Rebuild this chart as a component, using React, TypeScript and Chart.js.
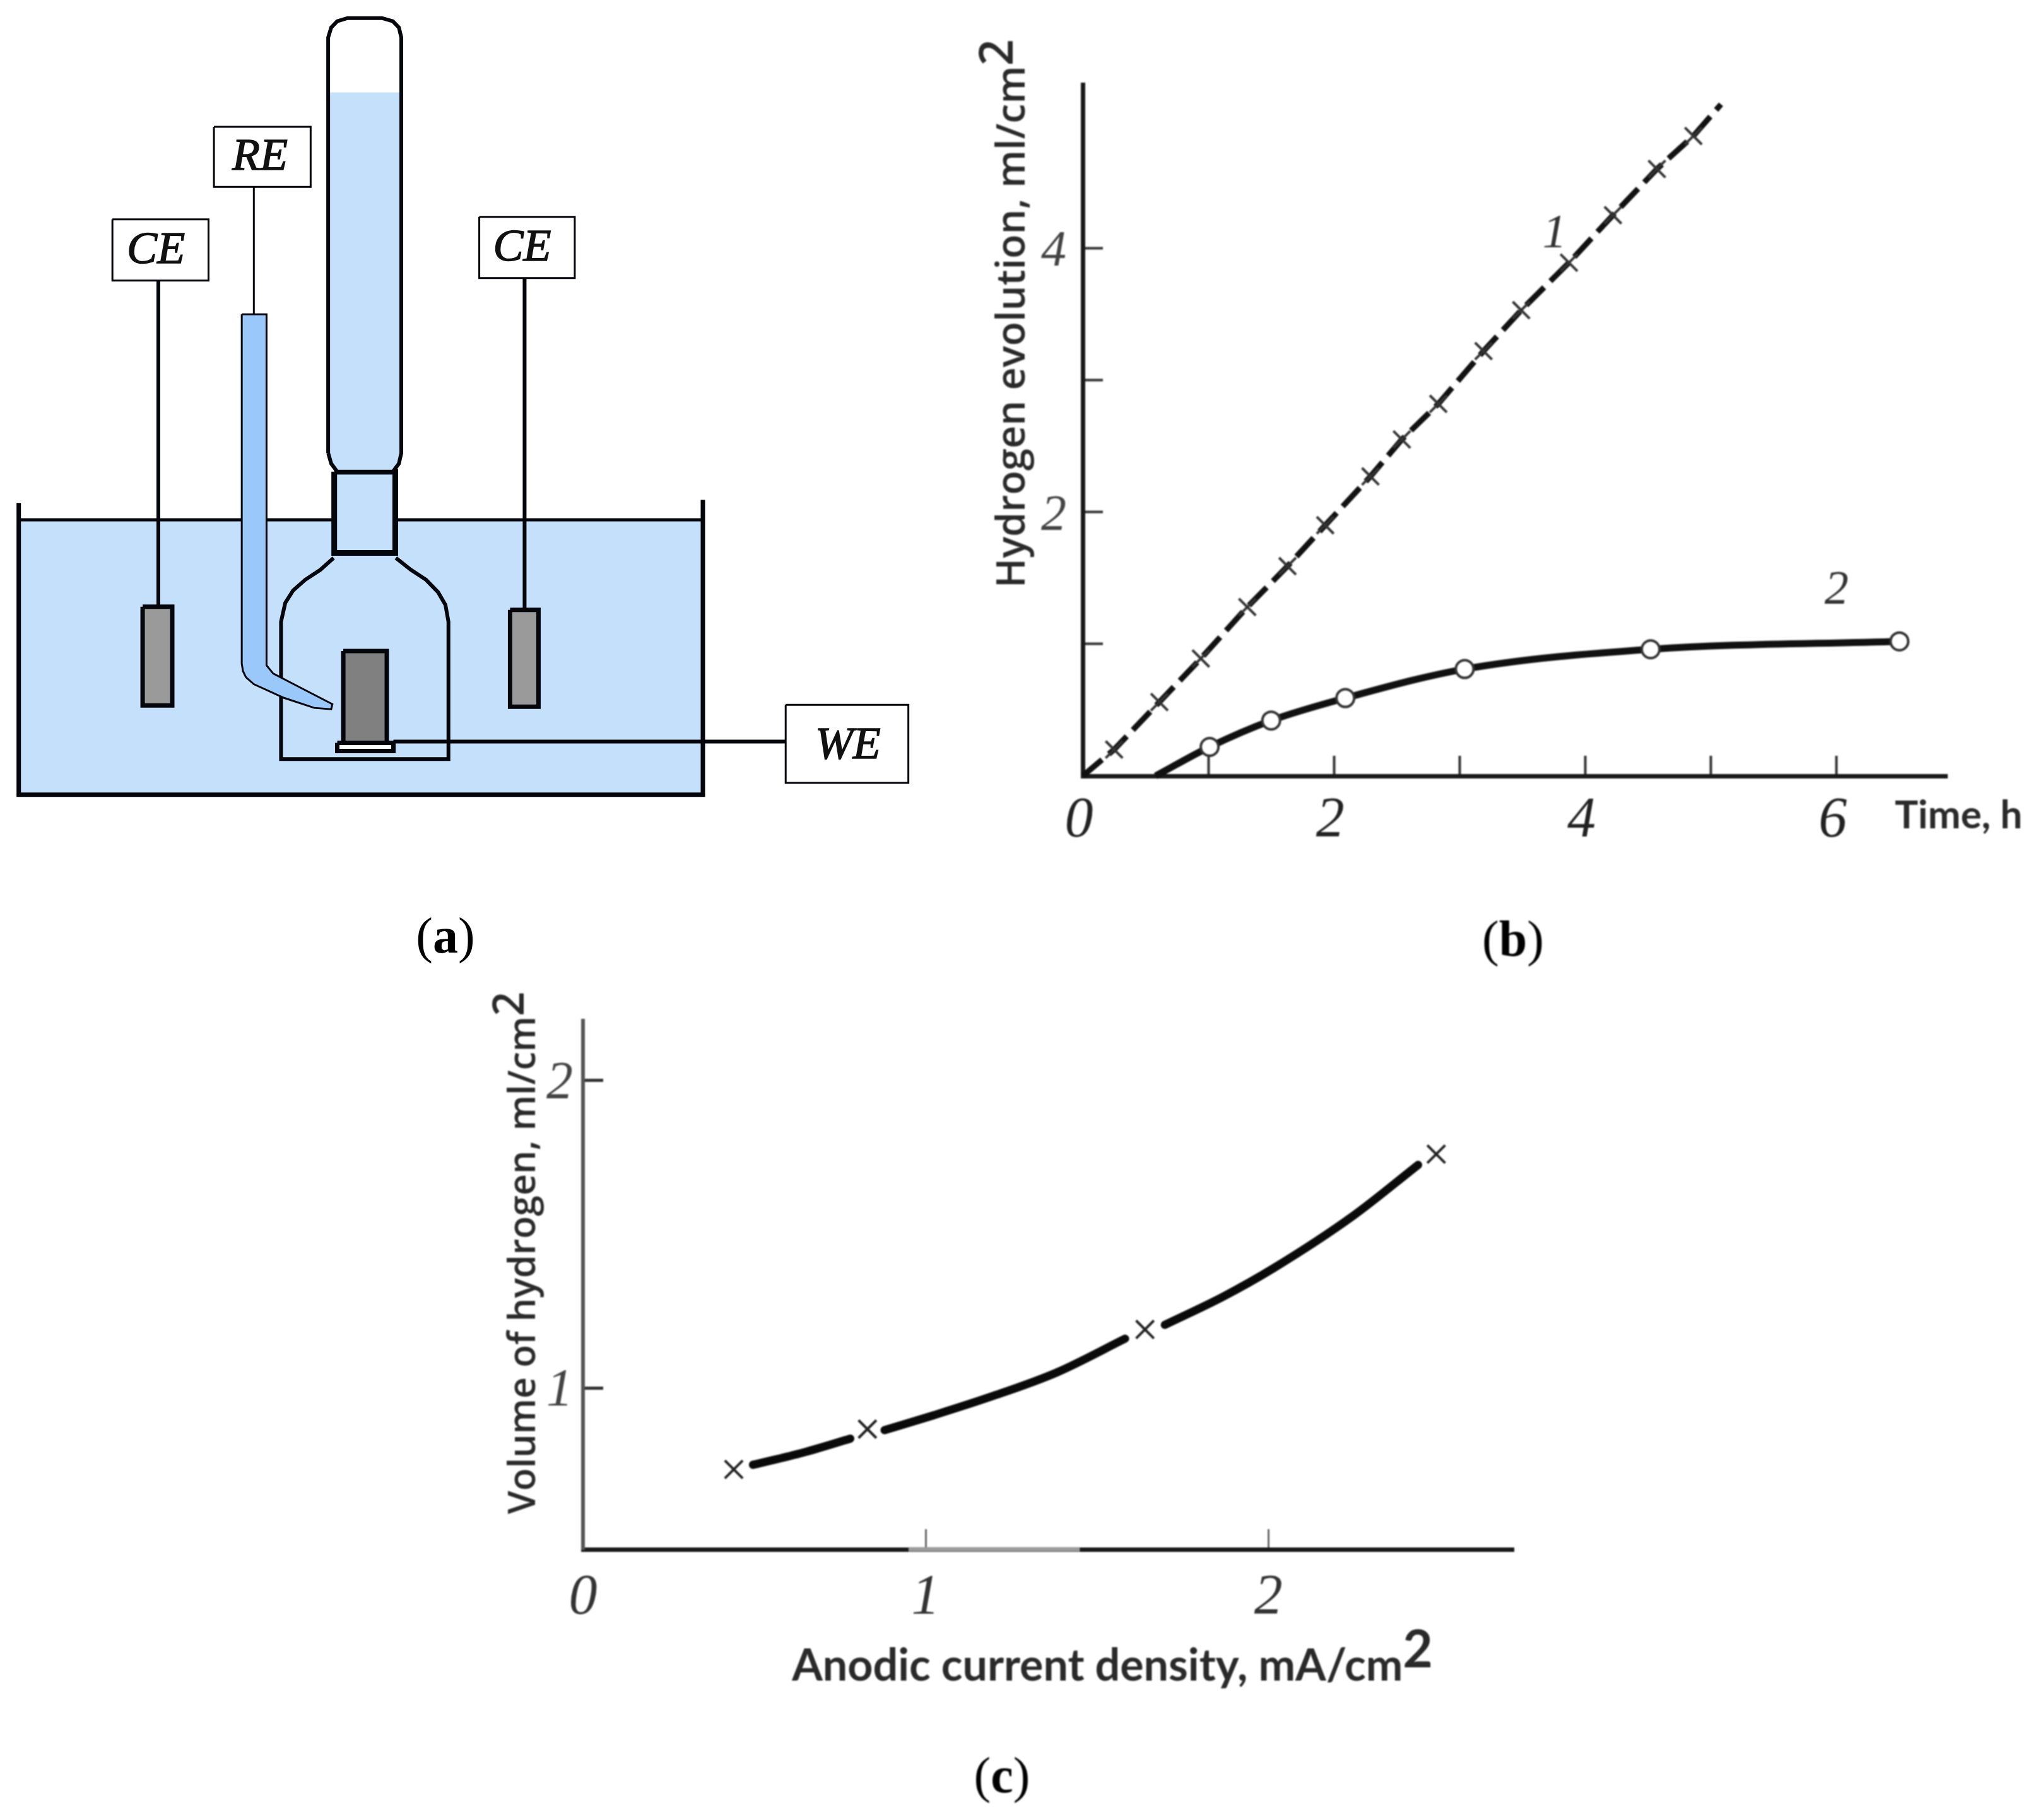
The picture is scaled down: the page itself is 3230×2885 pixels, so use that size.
import React, { useEffect, useRef } from "react";
import { Chart, registerables } from "chart.js";

Chart.register(...registerables);

type P = [number, number];

// ---------- Panel (b) values ----------
const b_series1_x = [0, 0.25, 0.61, 0.94, 1.31, 1.63, 1.93, 2.29, 2.54, 2.83, 3.19, 3.49, 3.87, 4.22, 4.57, 4.86, 5.08];
const b_series1_y = [0, 0.2, 0.56, 0.89, 1.28, 1.59, 1.9, 2.27, 2.55, 2.82, 3.22, 3.53, 3.89, 4.25, 4.6, 4.85, 5.09];
const b_series2_x = [0.58, 1.01, 1.5, 2.09, 3.04, 4.52, 6.5];
const b_series2_y = [0, 0.22, 0.42, 0.59, 0.81, 0.96, 1.02];
const b_x_labels = ["0", "2", "4", "6"];
const b_y_labels = ["2", "4"];

// ---------- Panel (c) values ----------
const c_marker_x = [0.44, 0.83, 1.64, 2.49];
const c_marker_y = [0.735, 0.866, 1.19, 1.76];
const c_seg1_x = [0.496, 0.643, 0.78];
const c_seg1_y = [0.75, 0.79, 0.835];
const c_seg2_x = [0.88, 1.023, 1.192, 1.382, 1.582];
const c_seg2_y = [0.8625, 0.911, 0.972, 1.05, 1.16];
const c_seg3_x = [1.698, 1.867, 2.015, 2.247, 2.437];
const c_seg3_y = [1.205, 1.296, 1.389, 1.559, 1.725];
const c_x_labels = ["0", "1", "2"];
const c_y_labels = ["1", "2"];
const c_axis_fade_x = [0.95, 1.45];

// ---------- Panel (a) apparatus outlines ----------
const a_tank_fill: P[] = [[31, 832], [1163, 832], [1163, 1272], [31, 1272], [31, 832]];
const a_tank_outline: P[] = [[31, 805], [31, 1272], [1163, 1272], [1163, 800]];
const a_water_line: P[] = [[31, 832], [1163, 832]];
const a_column_water: P[] = [[546, 148], [661, 148], [661, 725], [658, 742], [650, 755], [558, 755], [548, 742], [546, 725], [546, 148]];
const a_column: P[] = [[543, 725], [543, 60], [548, 44], [558, 34], [575, 29], [632, 29], [650, 34], [660, 44], [664, 60], [664, 725], [660, 742], [650, 755], [558, 755], [548, 742], [543, 725]];
const a_neck: P[] = [[553, 755], [654, 755], [654, 885], [553, 885], [553, 755]];
const a_bell: P[] = [[552, 893], [530, 912], [505, 928], [485, 945], [472, 965], [465, 995], [465, 1215], [742, 1215], [742, 995], [737, 968], [725, 948], [705, 928], [680, 912], [655, 893]];
const a_re_tube: P[] = [[400, 503], [441, 503], [441, 1065], [452, 1078], [490, 1097], [550, 1127], [548, 1135], [520, 1133], [470, 1117], [420, 1095], [407, 1084], [402, 1074], [400, 1062], [400, 503]];
const a_ce_left_wire: P[] = [[262, 450], [262, 971]];
const a_ce_left: P[] = [[236, 971], [285, 971], [285, 1129], [236, 1129], [236, 971]];
const a_ce_right_wire: P[] = [[868, 445], [868, 976]];
const a_ce_right: P[] = [[844, 976], [891, 976], [891, 1131], [844, 1131], [844, 976]];
const a_re_wire: P[] = [[420, 299], [420, 503]];
const a_we: P[] = [[568, 1042], [640, 1042], [640, 1189], [568, 1189], [568, 1042]];
const a_we_base: P[] = [[558, 1189], [651, 1189], [651, 1202], [558, 1202], [558, 1189]];
const a_we_wire: P[] = [[651, 1187], [1300, 1187]];
const a_box_re: P[] = [[354, 203], [514, 203], [514, 299], [354, 299], [354, 203]];
const a_box_ce_left: P[] = [[186, 351], [345, 351], [345, 449], [186, 449], [186, 351]];
const a_box_ce_right: P[] = [[793, 347], [951, 347], [951, 445], [793, 445], [793, 347]];
const a_box_we: P[] = [[1300, 1128], [1503, 1128], [1503, 1253], [1300, 1253], [1300, 1128]];

const a_labels = ["RE", "CE", "CE", "WE"];
const panel_labels = ["a", "b", "c"];
const b_titles = ["Hydrogen evolution, ml/cm", "Time, h"];
const c_titles = ["Volume of hydrogen, ml/cm", "Anodic current density, mA/cm"];
const b_curve_names = ["1", "2"];
const superscript = "2";

// ---------- Helpers ----------
const WATER = "#c5e0fb";
const TUBE = "#9bc8fb";
const INK = "#05060c";
const SERIF = '"Liberation Serif"';
const SANS = '"Open Sans"';
const LATO = "Lato";

const pts = (p: P[]) => p.map(([x, y]) => ({ x, y }));
const zip = (xs: number[], ys: number[]) => xs.map((x, i) => ({ x, y: ys[i] }));

type Run = { t: string; font: string; dy?: number };
type Item = { runs: Run[]; x: number; y: number; rot?: number; color?: string; data?: boolean; stroke?: number };

const textPlugin = (items: Item[]) => ({
  id: "texts",
  afterDatasetsDraw(chart: any) {
    const ctx = chart.ctx;
    items.forEach((it) => {
      const x = it.data ? chart.scales.x.getPixelForValue(it.x) : it.x;
      const y = it.data ? chart.scales.y.getPixelForValue(it.y) : it.y;
      ctx.save();
      ctx.translate(x, y);
      if (it.rot) ctx.rotate(it.rot);
      ctx.fillStyle = it.color || "#111";
      ctx.strokeStyle = it.color || "#111";
      ctx.textBaseline = "middle";
      ctx.textAlign = "left";
      let total = 0;
      it.runs.forEach((r) => {
        ctx.font = r.font;
        total += ctx.measureText(r.t).width;
      });
      let cx = -total / 2;
      it.runs.forEach((r) => {
        ctx.font = r.font;
        ctx.fillText(r.t, cx, r.dy || 0);
        if (it.stroke) {
          ctx.lineWidth = it.stroke;
          ctx.strokeText(r.t, cx, r.dy || 0);
        }
        cx += ctx.measureText(r.t).width;
      });
      ctx.restore();
    });
  },
});

const panelLabel = (name: string, x: number, y: number): Item => ({
  x,
  y,
  color: "#000",
  runs: [
    { t: "(", font: `80px ${SERIF}` },
    { t: name, font: `bold 80px ${SERIF}` },
    { t: ")", font: `80px ${SERIF}` },
  ],
});

const line = (p: P[], o: any = {}) => ({
  data: pts(p),
  showLine: true,
  pointRadius: 0,
  borderColor: INK,
  borderWidth: 6,
  borderJoinStyle: "miter",
  clip: false,
  ...o,
});
const shape = (p: P[], color: string, o: any = {}) =>
  line(p, { fill: "shape", backgroundColor: color, ...o });

const baseOptions = {
  animation: false,
  responsive: false,
  devicePixelRatio: 1,
  events: [],
  plugins: { legend: { display: false }, tooltip: { enabled: false } },
};

// ---------- Chart configs ----------
function configA() {
  const layers = [
    shape(a_tank_fill, WATER, { borderWidth: 0 }),
    line(a_tank_outline, { borderWidth: 7 }),
    line(a_water_line, { borderWidth: 5 }),
    line(a_ce_left_wire),
    shape(a_ce_left, "#9a9a9a", { borderWidth: 7 }),
    line(a_ce_right_wire),
    shape(a_ce_right, "#9a9a9a", { borderWidth: 7 }),
    line(a_re_wire, { borderWidth: 3 }),
    shape(a_neck, WATER, { borderWidth: 9 }),
    shape(a_bell, WATER, { borderWidth: 6 }),
    shape(a_re_tube, TUBE, { borderWidth: 3 }),
    shape(a_column_water, WATER, { borderWidth: 0 }),
    line(a_column, { borderWidth: 6 }),
    shape(a_we, "#808080", { borderWidth: 7 }),
    shape(a_we_base, "#ffffff", { borderWidth: 7 }),
    line(a_we_wire),
    shape(a_box_re, "#ffffff", { borderWidth: 3 }),
    shape(a_box_ce_left, "#ffffff", { borderWidth: 3 }),
    shape(a_box_ce_right, "#ffffff", { borderWidth: 3 }),
    shape(a_box_we, "#ffffff", { borderWidth: 3 }),
  ];
  const lab = `italic 72px ${SERIF}`;
  const items: Item[] = [
    { runs: [{ t: a_labels[0], font: lab }], x: 430, y: 252, data: true, stroke: 1.5 },
    { runs: [{ t: a_labels[1], font: lab }], x: 258, y: 402, data: true, stroke: 1.5 },
    { runs: [{ t: a_labels[2], font: lab }], x: 864, y: 398, data: true, stroke: 1.5 },
    { runs: [{ t: a_labels[3], font: lab }], x: 1403, y: 1195, data: true, stroke: 1.5 },
    panelLabel(panel_labels[0], 706, 1489),
  ];
  return {
    type: "scatter",
    data: { datasets: layers.reverse() },
    options: {
      ...baseOptions,
      scales: {
        x: { type: "linear", min: 0, max: 1566, display: false },
        y: { type: "linear", min: 0, max: 1565, reverse: true, display: false },
      },
    },
    plugins: [textPlugin(items)],
  };
}

function axisCommon(o: any) {
  return {
    type: "linear",
    border: { display: true, color: "#1a1a1a", width: 7 },
    ...o,
  };
}

const digitFont = { family: SERIF, size: 90, style: "italic" as const };

function configB() {
  const s1 = zip(b_series1_x, b_series1_y);
  const s2 = zip(b_series2_x, b_series2_y);
  const items: Item[] = [
    {
      x: 106,
      y: 497,
      rot: -Math.PI / 2,
      color: "#2a2a2a",
      runs: [
        { t: b_titles[0], font: `600 63px ${SANS}` },
        { t: superscript, font: `600 74px ${SANS}`, dy: -22 },
      ],
    },
    { x: 1604, y: 1293, color: "#2a2a2a", runs: [{ t: b_titles[1], font: `700 62px ${LATO}` }] },
    { x: 3.755, y: 4.1, data: true, color: "#333", runs: [{ t: b_curve_names[0], font: `italic 76px ${SERIF}` }] },
    { x: 6.0, y: 1.4, data: true, color: "#333", runs: [{ t: b_curve_names[1], font: `italic 76px ${SERIF}` }] },
    panelLabel(panel_labels[1], 898, 1494),
  ];
  return {
    type: "scatter",
    data: {
      datasets: [
        {
          data: s2,
          showLine: true,
          borderColor: "#111",
          borderWidth: 11,
          cubicInterpolationMode: "monotone",
          pointRadius: (c: any) => (c.dataIndex === 0 ? 0 : 14),
          pointStyle: "circle",
          pointBackgroundColor: "#fff",
          pointBorderColor: "#333",
          pointBorderWidth: 4,
          clip: false,
        },
        {
          data: s1,
          showLine: true,
          borderColor: "#111",
          borderWidth: 9,
          borderDash: [40, 14],
          pointRadius: (c: any) => (c.dataIndex === 0 || c.dataIndex === s1.length - 1 ? 0 : 19),
          pointStyle: "crossRot",
          pointBorderColor: "#333",
          pointBorderWidth: 4,
          clip: false,
        },
      ],
    },
    options: {
      ...baseOptions,
      layout: { padding: { top: 134, right: 144, left: 0, bottom: 0 } },
      scales: {
        x: axisCommon({
          min: 0,
          max: 6.88,
          afterFit: (s: any) => { s.height = 320; },
          grid: { drawOnChartArea: false, tickLength: -32, tickWidth: 4, tickColor: "#333" },
          ticks: {
            stepSize: 1,
            includeBounds: false,
            autoSkip: false,
            maxRotation: 0,
            padding: 50,
            labelOffset: -6,
            color: "#222",
            font: digitFont,
            callback: (v: number) => (b_x_labels.includes(String(v)) ? String(v) : ""),
          },
        }),
        y: axisCommon({
          min: 0,
          max: 5.24,
          afterFit: (s: any) => { s.width = 216; },
          grid: {
            drawOnChartArea: false,
            tickLength: -32,
            tickWidth: 4,
            tickColor: (c: any) => (c.tick && c.tick.value === 5 ? "rgba(0,0,0,0)" : "#333"),
          },
          ticks: {
            stepSize: 1,
            includeBounds: false,
            autoSkip: false,
            padding: 58,
            labelOffset: 7,
            color: "#444",
            font: { ...digitFont, size: 80 },
            callback: (v: number) => (b_y_labels.includes(String(v)) ? String(v) : ""),
          },
        }),
      },
    },
    plugins: [textPlugin(items)],
  };
}

function configC() {
  const seg = (xs: number[], ys: number[]) => ({
    data: zip(xs, ys),
    showLine: true,
    borderColor: "#0a0a0a",
    borderWidth: 13,
    borderCapStyle: "round",
    cubicInterpolationMode: "monotone",
    pointRadius: 0,
    clip: false,
  });
  const yMin = 0.475;
  const items: Item[] = [
    {
      x: 131,
      y: 466,
      rot: -Math.PI / 2,
      color: "#2a2a2a",
      runs: [
        { t: c_titles[0], font: `600 59px ${SANS}` },
        { t: superscript, font: `600 68px ${SANS}`, dy: -20 },
      ],
    },
    {
      x: 1063,
      y: 1121,
      color: "#2a2a2a",
      runs: [
        { t: c_titles[1], font: `700 70px ${LATO}` },
        { t: superscript, font: `700 82px ${LATO}`, dy: -24 },
      ],
    },
    panelLabel(panel_labels[2], 888, 1300),
  ];
  return {
    type: "scatter",
    data: {
      datasets: [
        {
          data: zip(c_marker_x, c_marker_y),
          pointRadius: 20,
          pointStyle: "crossRot",
          pointBorderColor: "#222",
          pointBorderWidth: 4,
          clip: false,
        },
        seg(c_seg1_x, c_seg1_y),
        seg(c_seg2_x, c_seg2_y),
        seg(c_seg3_x, c_seg3_y),
        {
          data: c_axis_fade_x.map((x) => ({ x, y: yMin })),
          showLine: true,
          borderColor: "#9a9a9a",
          borderWidth: 7,
          pointRadius: 0,
          clip: false,
        },
      ],
    },
    options: {
      ...baseOptions,
      layout: { padding: { top: 82, right: 101, left: 0, bottom: 0 } },
      scales: {
        x: axisCommon({
          min: 0,
          max: 2.716,
          afterFit: (s: any) => { s.height = 429; },
          grid: { drawOnChartArea: false, tickLength: -32, tickWidth: 3, tickColor: "#666" },
          ticks: {
            stepSize: 1,
            includeBounds: false,
            autoSkip: false,
            maxRotation: 0,
            padding: 56,
            color: "#333",
            font: digitFont,
            callback: (v: number) => (c_x_labels.includes(String(v)) ? String(v) : ""),
          },
        }),
        y: axisCommon({
          min: yMin,
          max: 2.193,
          border: { display: true, color: "#555", width: 6, dash: [70, 5, 8, 5] },
          afterFit: (s: any) => { s.width = 224; },
          grid: { drawOnChartArea: false, tickLength: -32, tickWidth: 5, tickColor: "#333" },
          ticks: {
            stepSize: 1,
            includeBounds: false,
            autoSkip: false,
            padding: 48,
            labelOffset: 6,
            color: "#444",
            font: { ...digitFont, size: 84 },
            callback: (v: number) => (c_y_labels.includes(String(v)) ? String(v) : ""),
          },
        }),
      },
    },
    plugins: [textPlugin(items)],
  };
}

function Panel({ make, left, top, width, height, blur }: any) {
  const ref = useRef<HTMLCanvasElement>(null);
  useEffect(() => {
    const chart = new Chart(ref.current as any, make());
    return () => chart.destroy();
  }, [make]);
  return (
    <canvas
      ref={ref}
      width={width}
      height={height}
      style={{ position: "absolute", left, top, width, height, display: "block", filter: blur ? "blur(1px)" : undefined }}
    />
  );
}

export default function App() {
  return (
    <div style={{ position: "absolute", left: 0, top: 0, width: 3230, height: 2885, background: "#fff", overflow: "hidden" }}>
      <Panel make={configA} left={0} top={0} width={1500} height={1550} />
      <Panel make={configB} left={1500} top={0} width={1730} height={1550} blur />
      <Panel make={configC} left={700} top={1520} width={1800} height={1365} blur />
    </div>
  );
}
